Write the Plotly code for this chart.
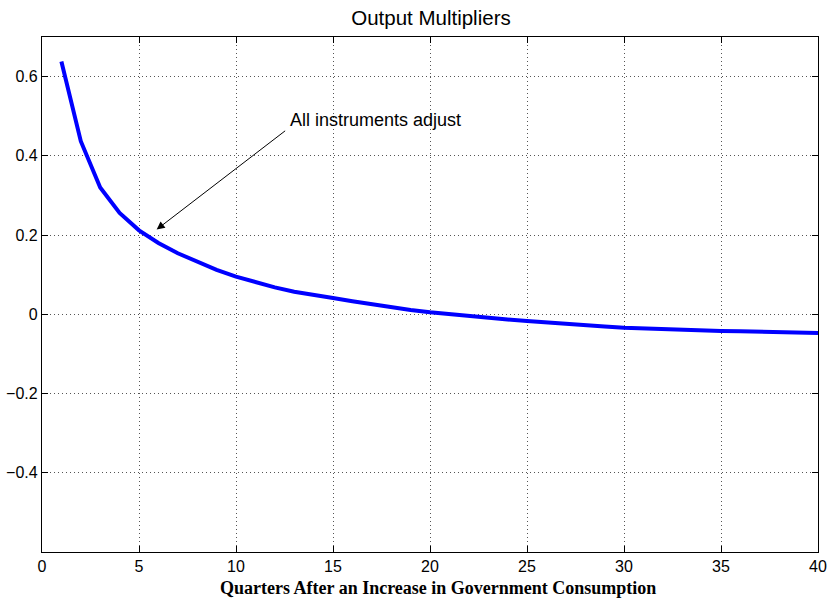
import plotly.graph_objects as go

quarters = list(range(1, 41))
multiplier = [0.638, 0.437, 0.320, 0.256, 0.212, 0.180, 0.154, 0.132, 0.112, 0.095,
              0.081, 0.068, 0.057, 0.048, 0.041, 0.033, 0.025, 0.018, 0.011, 0.005,
              0.000, -0.005, -0.009, -0.013, -0.017, -0.021, -0.024, -0.028, -0.031, -0.034,
              -0.036, -0.038, -0.040, -0.041, -0.042, -0.043, -0.044, -0.045, -0.046, -0.047]

x_ticks = [0, 5, 10, 15, 20, 25, 30, 35, 40]
y_ticks = [-0.4, -0.2, 0, 0.2, 0.4, 0.6]
y_tick_text = ["\u22120.4", "\u22120.2", "0", "0.2", "0.4", "0.6"]

title_text = "Output Multipliers"
x_title = "Quarters After an Increase in Government Consumption"
note_text = "All instruments adjust"
arrow_head = (5.91, 0.214)
arrow_tail = (12.61, 0.466)
note_pos = (12.66, 0.4915)

fig = go.Figure()
fig.add_trace(go.Scatter(x=quarters, y=multiplier, mode="lines",
                         line=dict(color="#0000ff", width=4), showlegend=False))

axis_common = dict(showline=True, linecolor="black", linewidth=1.3, mirror="allticks",
                   ticks="inside", ticklen=6, tickcolor="black", tickwidth=1,
                   showgrid=True, gridcolor="#555555", gridwidth=1, griddash="1px,3px",
                   zeroline=False, automargin=False,
                   tickfont=dict(family="Liberation Sans, Arial", size=16, color="black"))

fig.update_xaxes(range=[0, 40], tickvals=x_ticks, **axis_common)
fig.update_yaxes(range=[-0.6, 0.7], tickvals=y_ticks, ticktext=y_tick_text, **axis_common)

fig.add_annotation(x=arrow_head[0], y=arrow_head[1], ax=arrow_tail[0], ay=arrow_tail[1],
                   xref="x", yref="y", axref="x", ayref="y", text="", showarrow=True,
                   arrowhead=2, arrowsize=1.6, arrowwidth=1, arrowcolor="black", standoff=0, startstandoff=0)
fig.add_annotation(x=note_pos[0], y=note_pos[1], xref="x", yref="y", text=note_text,
                   showarrow=False, xanchor="left", yanchor="middle",
                   font=dict(family="Liberation Sans, Arial", size=18, color="black"))
fig.add_annotation(x=0.51, y=-0.07, xref="paper", yref="paper", text="<b>" + x_title + "</b>",
                   showarrow=False, xanchor="center", yanchor="middle",
                   font=dict(family="Liberation Serif, Times New Roman", size=18, color="black"))

fig.update_layout(width=828, height=600,
                  margin=dict(l=42, r=10, t=37, b=48),
                  paper_bgcolor="white", plot_bgcolor="white",
                  title=dict(text=title_text, x=0.5205, xanchor="center", y=0.97, yanchor="middle",
                             font=dict(family="Liberation Sans, Arial", size=20.5, color="black")))

fig.write_html("out.html")
